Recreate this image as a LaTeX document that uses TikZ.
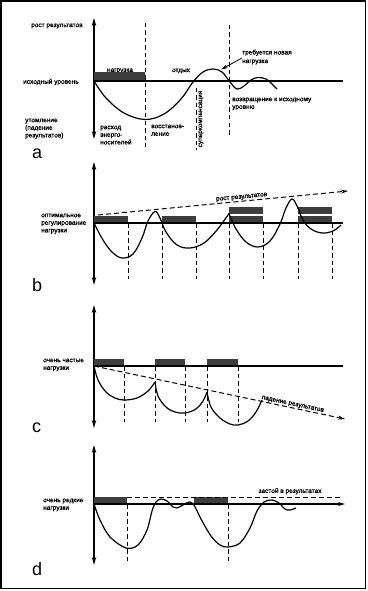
\documentclass[tikz,border=0pt]{standalone}
\usepackage{fontspec}
\setmainfont{Liberation Sans}
\newfontfamily\lblfont[FakeBold=1.3]{Liberation Sans}
\usetikzlibrary{arrows.meta}
\begin{document}
\begin{tikzpicture}[x=1pt,y=-1pt,
  lbl/.style={font=\lblfont\fontsize{6.5}{7.6}\selectfont, inner sep=0pt, align=left},
  letter/.style={font=\fontsize{18}{18}\selectfont, inner sep=0pt, anchor=base west},
  axis/.style={line width=1.4pt, {Stealth[length=8pt,width=4.5pt]}-{Stealth[length=8pt,width=4.5pt]}},
  baseln/.style={line width=1.2pt},
  curveln/.style={line width=1.2pt, line join=round},
  guideln/.style={line width=0.8pt, dash pattern=on 4.5pt off 3pt},
  loadbox/.style={fill=black!76, draw=none},
  trendln/.style={line width=1pt, dash pattern=on 5pt off 3pt},
  tip/.style={-{Stealth[length=7pt,width=4pt]}}
]
\useasboundingbox (0,0) rectangle (367,591);
\draw[line width=1.5pt] (1,1) rectangle (365.5,588.5);

% ================= panel a =================
\coordinate (aT) at (94,18); \coordinate (aB) at (94,139);
\draw[axis] (aB) -- (aT);
\coordinate (aL) at (94,81); \coordinate (aR) at (343,81);
\node[lbl, anchor=south] (aload) at (120,73.5) {нагрузка};
\fill[loadbox] (94,72) rectangle (145,81);
\draw[baseln] (aL) -- (aR);
\draw[guideln] (145,23) -- (145,147);
\draw[guideln] (196,88) -- (196,150);
\draw[guideln] (229,25) -- (229,137);
\draw[curveln] plot[smooth, tension=0.6] coordinates {(94,81) (106,98) (124,113) (145,119.5) (164,114) (181,99) (193,82) (203,72) (213,69) (222,72) (230,82) (237,89) (244,86) (251,80) (258,77.5) (266,79) (272,84) (277,89)};
\node[lbl, anchor=west] (arost) at (31,26) {рост результатов};
\node[lbl, anchor=west] (aiskh) at (23,82) {исходный уровень};
\node[lbl, anchor=north west] (autom) at (25,118.5) {утомление\\(падение\\результатов)};
\node[lbl, anchor=north west] (arask) at (100,125.5) {расход\\энерго-\\носителей};
\node[lbl, anchor=north west] (avost) at (151,124.5) {восстанов-\\ление};
\node[lbl, rotate=90] (asuper) at (201,119) {суперкомпенсация};
\node[lbl, anchor=north west] (avozv) at (232,97.5) {возвращение к исходному\\уровню};
\node[lbl, anchor=north west, font=\lblfont\fontsize{6.5}{8.6}\selectfont] (atreb) at (242,49.5) {требуется новая\\нагрузка};
\node[lbl] (aotd) at (181,71) {отдых};
\coordinate (arrS) at (242,58); \coordinate (arrE) at (221,69.5);
\draw[tip, line width=0.8pt] (arrS) -- (arrE);
\node[letter] (la) at (32,158) {a};

% ================= panel b =================
\coordinate (bT) at (94,162); \coordinate (bB) at (94,285);
\draw[axis] (bB) -- (bT);
\fill[loadbox] (94,216) rectangle (128,223);
\fill[loadbox] (162,216) rectangle (196,223);
\fill[loadbox] (229,216) rectangle (263,223);
\fill[loadbox] (229,207) rectangle (263,214);
\fill[loadbox] (298,216) rectangle (332,223);
\fill[loadbox] (298,207) rectangle (332,214);
\coordinate (bL) at (94,223); \coordinate (bR) at (343,223);
\draw[baseln] (bL) -- (bR);
\foreach \gx in {128,162,196,229,263,298,332} \draw[guideln] (\gx,223) -- (\gx,279);
\coordinate (bS) at (98,215); \coordinate (bE) at (348,191);
\draw[trendln, tip] (bS) -- (bE);
\node[lbl, anchor=south, rotate=5.5, inner sep=1pt] (brost) at (242,201) {рост результатов};
\draw[curveln] plot[smooth, tension=0.6] coordinates {(94,223) (103,240) (112,252) (122,258) (133,254) (142,238) (148,221) (155,211.5) (160,218) (166,232) (177,245) (190,248) (204,243) (217,230) (229,213.5)};
\draw[curveln] plot[smooth, tension=0.6] coordinates {(229,213.5) (236,229) (246,242) (258,247) (270,241) (280,224) (286,208) (292,199) (297,206) (303,220) (311,229) (322,233) (333,231) (341,225)};
\node[lbl, anchor=north west] (bopt) at (41,213.5) {оптимальное\\регулирование\\нагрузки};
\node[letter] (lb) at (32,291) {b};

% ================= panel c =================
\coordinate (cT) at (94,305); \coordinate (cB) at (94,428);
\draw[axis] (cB) -- (cT);
\fill[loadbox] (94,359) rectangle (124,366);
\fill[loadbox] (155,359) rectangle (185,366);
\fill[loadbox] (207,359) rectangle (238,366);
\coordinate (cL) at (94,366); \coordinate (cR) at (343,366);
\draw[baseln] (cL) -- (cR);
\foreach \gx in {124,155,185,207,238} \draw[guideln] (\gx,366) -- (\gx,422);
\coordinate (cS) at (94,366); \coordinate (cE) at (345,419);
\draw[trendln, tip] (cS) -- (cE);
\node[lbl, anchor=south, rotate=-12, inner sep=1pt] (cpad) at (292,408) {падение результатов};
\draw[curveln] plot[smooth, tension=0.6] coordinates {(94,366) (98,380) (106,392) (115,398) (124,400) (137,398) (148,391) (155,382)};
\draw[curveln] plot[smooth, tension=0.6] coordinates {(155,382) (158,396) (166,407) (175,412) (185,413) (196,409) (203,401) (207,392)};
\draw[curveln] plot[smooth, tension=0.6] coordinates {(207,392) (211,407) (220,418) (230,424) (238,425) (248,421) (256,412) (262,400)};
\node[lbl, anchor=north west] (cfreq) at (43,358.5) {очень частые\\нагрузки};
\node[letter] (lc) at (32,432) {c};

% ================= panel d =================
\coordinate (dT) at (94,445); \coordinate (dB) at (94,565);
\draw[axis] (dB) -- (dT);
\fill[loadbox] (94,497) rectangle (127,504);
\fill[loadbox] (194,497) rectangle (228,504);
\coordinate (dL) at (94,504); \coordinate (dR) at (345,504);
\draw[baseln, tip] (dL) -- (dR);
\coordinate (dS) at (127,497); \coordinate (dE) at (343,497);
\draw[trendln] (dS) -- (dE);
\foreach \gx in {127,228} \draw[guideln] (\gx,504) -- (\gx,562);
\node[lbl, anchor=south, inner sep=1pt] (dzast) at (290,495.5) {застой в результатах};
\draw[curveln] plot[smooth, tension=0.55] coordinates {(94,504) (100,520) (110,537) (126,548) (138,545) (147,530) (152,511) (156,502) (161,499) (167,501) (173,507) (177,508) (183,505) (189,502) (194,505) (201,519) (211,536) (220,545) (228,547) (240,543) (250,528) (257,511) (264,502) (272,500) (279,503) (285,509) (290,510) (296,508)};
\node[lbl, anchor=north west] (drare) at (43,498.5) {очень редкие\\нагрузки};
\node[letter] (ld) at (32,575) {d};
\end{tikzpicture}
\end{document}
